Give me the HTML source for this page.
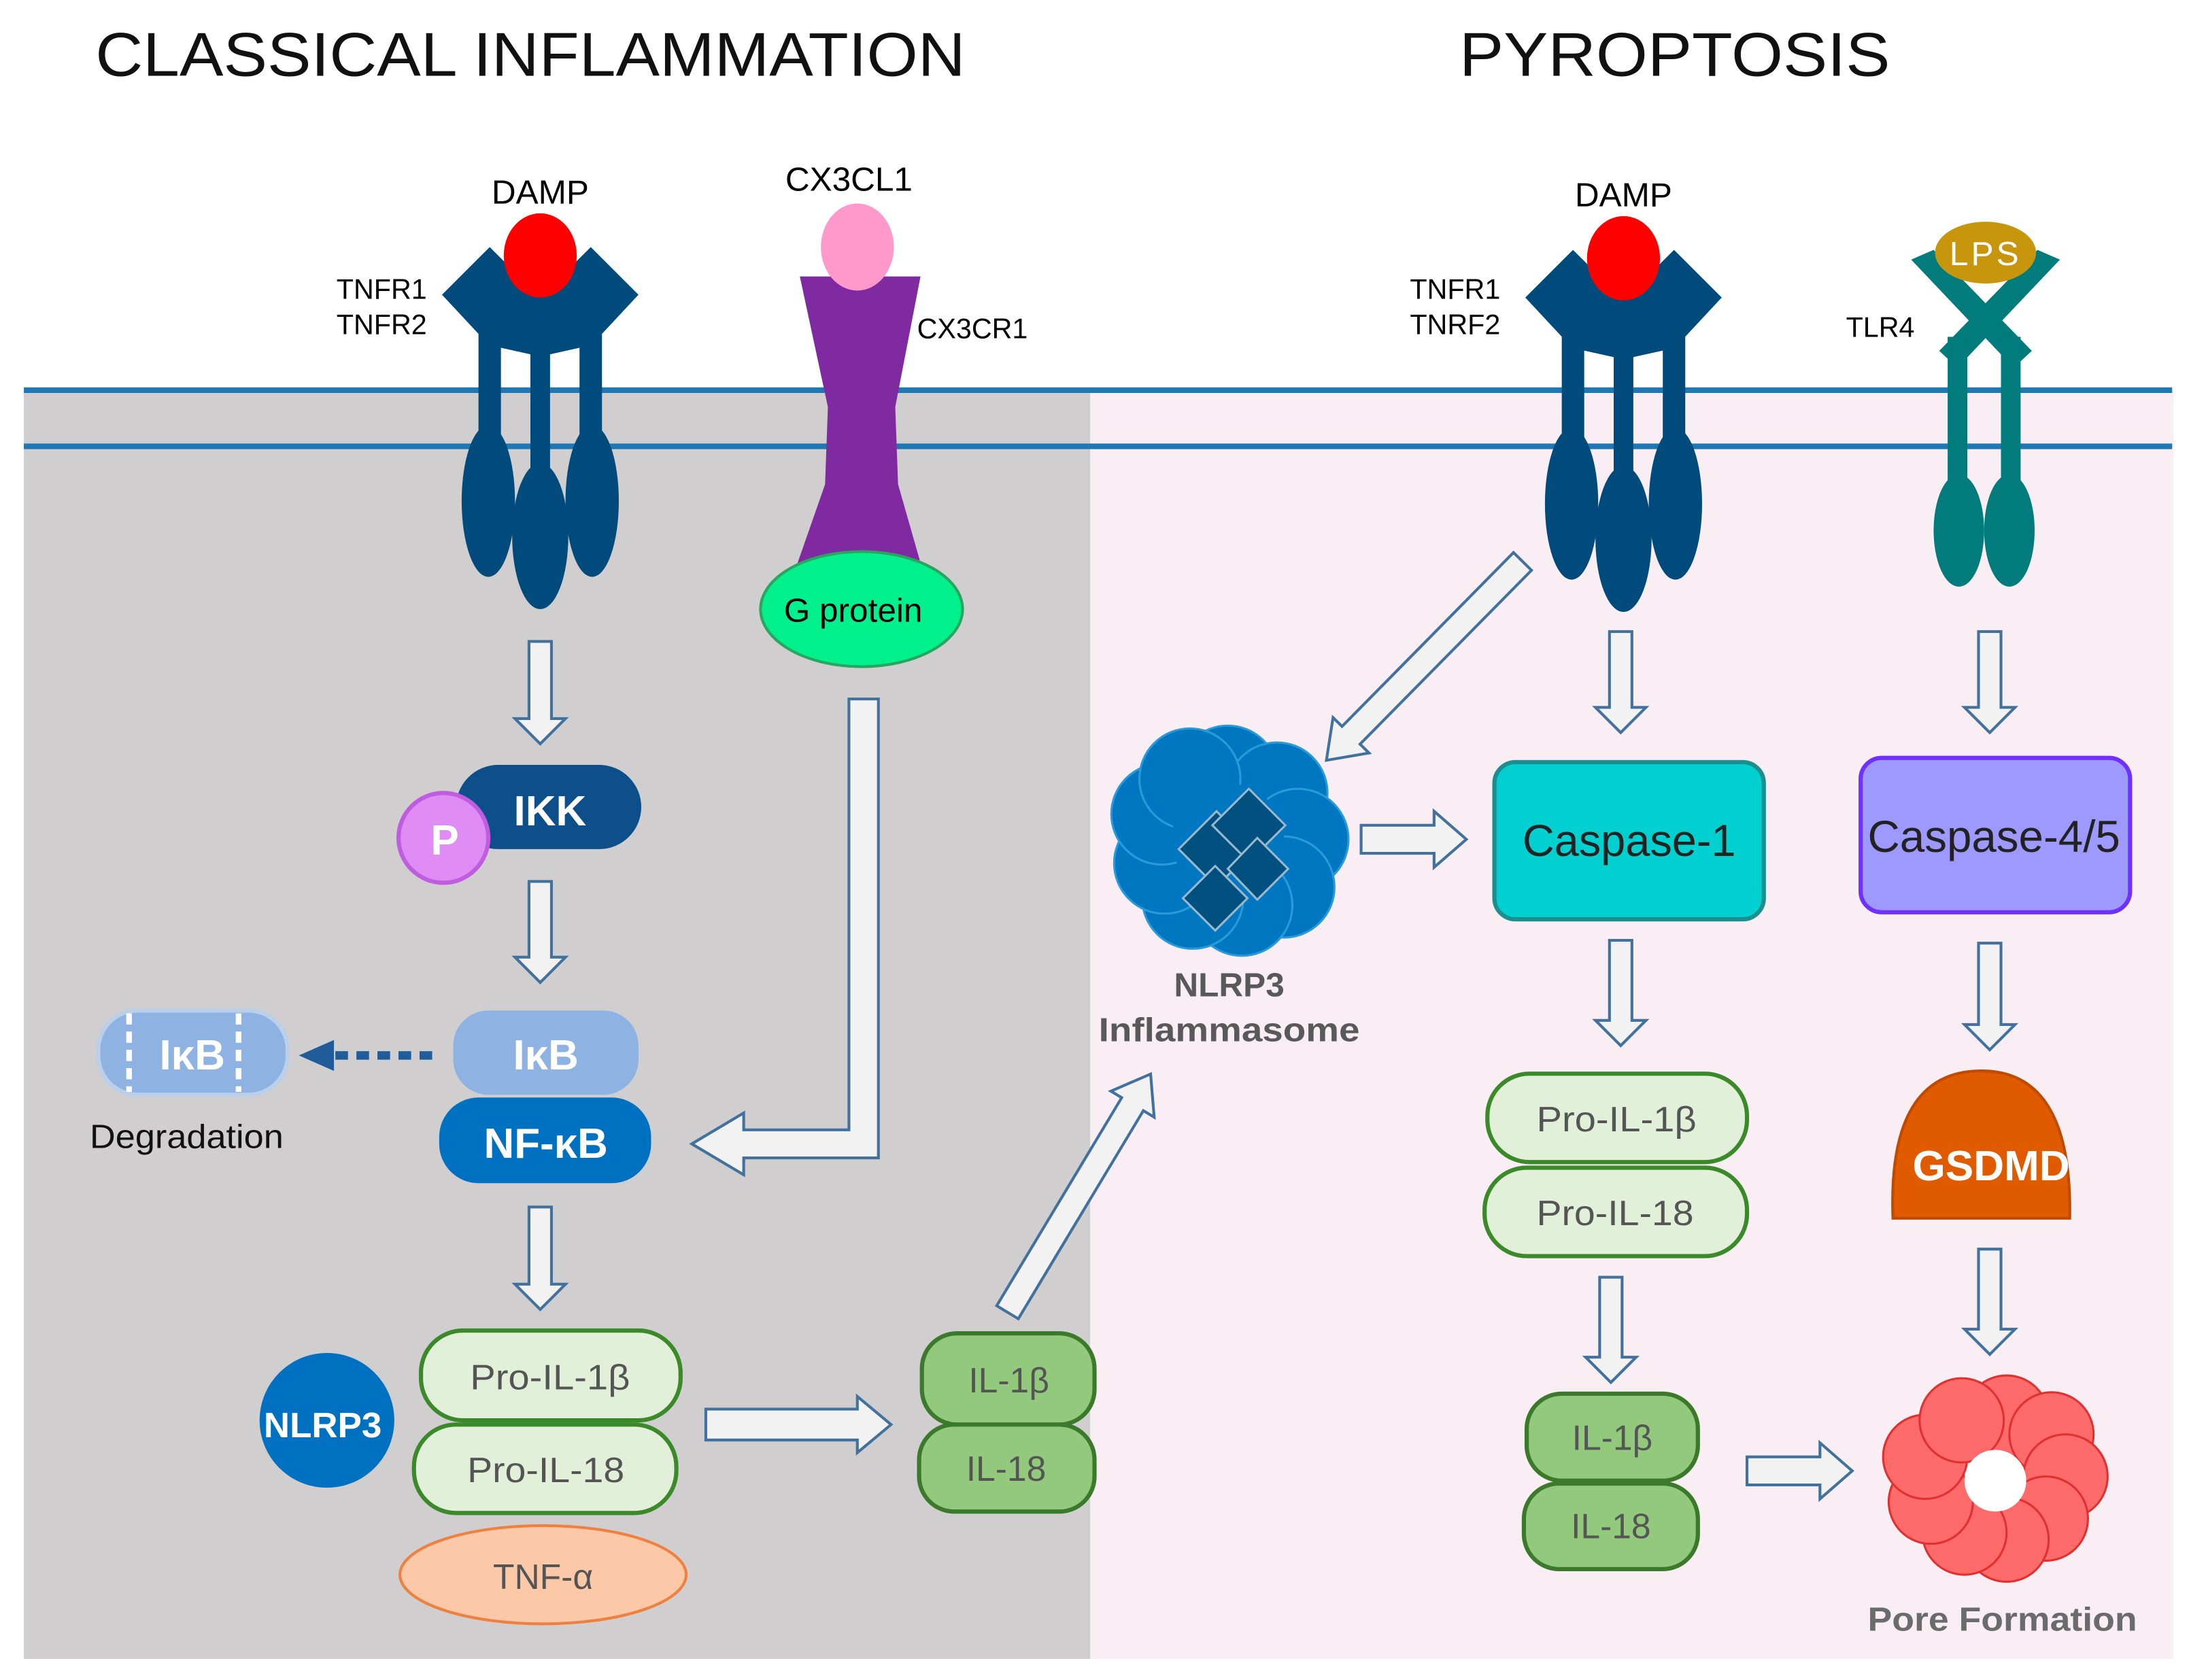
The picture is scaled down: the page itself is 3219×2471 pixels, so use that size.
<!DOCTYPE html>
<html><head><meta charset="utf-8"><style>
html,body{margin:0;padding:0;background:#fff}
svg{display:block}
text{font-family:"Liberation Sans",Arial,sans-serif}
</style></head><body>
<svg width="3219" height="2471" viewBox="0 0 1560 1197" preserveAspectRatio="none" xmlns="http://www.w3.org/2000/svg">
<defs>
<g id="rec">
  <polygon points="-70,210 -36,176 -14,198 14,198 36,176 70,210 42,240 36,246 0,254 -36,246 -42,240" fill="#004b7b"/>
  <rect x="-44" y="228" width="16" height="110" fill="#004b7b"/>
  <rect x="-7" y="240" width="14" height="150" fill="#004b7b"/>
  <rect x="28" y="228" width="16" height="110" fill="#004b7b"/>
  <ellipse cx="-37" cy="357" rx="19" ry="54" fill="#004b7b"/>
  <ellipse cx="37" cy="357" rx="19" ry="54" fill="#004b7b"/>
  <ellipse cx="0" cy="382" rx="20" ry="52" fill="#004b7b"/>
  <ellipse cx="0" cy="182" rx="26" ry="30" fill="#ff0000"/>
</g>
</defs>
<rect width="1560" height="1197" fill="#fff"/>
<rect x="17" y="279" width="760" height="903" fill="#d0cecf"/>
<rect x="777" y="279" width="772" height="903" fill="#f8eef4"/>
<line x1="17" y1="278" x2="1548" y2="278" stroke="#1f77b4" stroke-width="4"/>
<line x1="17" y1="318" x2="1548" y2="318" stroke="#1f77b4" stroke-width="4"/>

<text x="68" y="54" font-size="44" fill="#111" textLength="620" lengthAdjust="spacingAndGlyphs">CLASSICAL  INFLAMMATION</text>
<text x="1040" y="54" font-size="44" fill="#111" textLength="307" lengthAdjust="spacingAndGlyphs">PYROPTOSIS</text>

<use href="#rec" transform="translate(385,0)"/>
<use href="#rec" transform="translate(1157,2)"/>
<text x="385" y="145" font-size="24" text-anchor="middle">DAMP</text>
<text x="1157" y="147" font-size="24" text-anchor="middle">DAMP</text>
<text x="272" y="213" font-size="20" text-anchor="middle">TNFR1</text>
<text x="272" y="238" font-size="20" text-anchor="middle">TNFR2</text>
<text x="1037" y="213" font-size="20" text-anchor="middle">TNFR1</text>
<text x="1037" y="238" font-size="20" text-anchor="middle">TNRF2</text>

<polygon points="570,197 656,197 638,290 640,345 658,408 566,408 588,345 590,290" fill="#7f2aa0"/>
<ellipse cx="611" cy="176" rx="26" ry="31" fill="#ff99cc"/>
<text x="605" y="136" font-size="24" text-anchor="middle">CX3CL1</text>
<text x="693" y="241" font-size="20" text-anchor="middle">CX3CR1</text>
<ellipse cx="614" cy="434" rx="72" ry="41" fill="#00f08c" stroke="#2aa55f" stroke-width="2"/>
<text x="608" y="443" font-size="24" text-anchor="middle">G protein</text>

<g fill="#017b7b">
  <polygon points="1362,185 1378,178 1448,250 1435,262"/>
  <polygon points="1468,185 1452,178 1382,250 1395,262"/>
  <rect x="1388" y="240" width="14" height="105"/>
  <rect x="1426" y="240" width="14" height="105"/>
  <ellipse cx="1396" cy="378" rx="18" ry="40"/>
  <ellipse cx="1432" cy="378" rx="18" ry="40"/>
</g>
<ellipse cx="1415" cy="180" rx="36" ry="22" fill="#c8960c"/>
<text x="1415" y="189" font-size="24" fill="#fff" text-anchor="middle" letter-spacing="2">LPS</text>
<text x="1340" y="240" font-size="20" text-anchor="middle">TLR4</text>

<g fill="#f2f2f2" stroke="#41719c" stroke-width="2">
  <polygon transform="translate(385,457) rotate(90)" points="0,-8 55,-8 55,-18 73,0 55,18 55,8 0,8"/>
  <polygon transform="translate(385,628) rotate(90)" points="0,-8 54,-8 54,-18 72,0 54,18 54,8 0,8"/>
  <polygon transform="translate(385,860) rotate(90)" points="0,-8 55,-8 55,-18 73,0 55,18 55,8 0,8"/>
  <polygon points="605,498 626,498 626,825 530,825 530,837 493,815 530,793 530,805 605,805"/>
  <polygon transform="translate(503,1015)" points="0,-11 108,-11 108,-20 132,0 108,20 108,11 0,11"/>
  <polygon transform="translate(718,935) rotate(-59)" points="0,-9 173,-9 173,-18 198,0 173,18 173,9 0,9"/>
  <polygon transform="translate(1085,400) rotate(134.6)" points="0,-9 174,-9 174,-18 199,0 174,18 174,9 0,9"/>
  <polygon transform="translate(970,598)" points="0,-10 52,-10 52,-20 75,0 52,20 52,10 0,10"/>
  <polygon transform="translate(1155,450) rotate(90)" points="0,-8 54,-8 54,-18 72,0 54,18 54,8 0,8"/>
  <polygon transform="translate(1418,450) rotate(90)" points="0,-8 54,-8 54,-18 72,0 54,18 54,8 0,8"/>
  <polygon transform="translate(1155,670) rotate(90)" points="0,-8 57,-8 57,-18 75,0 57,18 57,8 0,8"/>
  <polygon transform="translate(1418,672) rotate(90)" points="0,-8 58,-8 58,-18 76,0 58,18 58,8 0,8"/>
  <polygon transform="translate(1148,910) rotate(90)" points="0,-8 57,-8 57,-18 75,0 57,18 57,8 0,8"/>
  <polygon transform="translate(1418,890) rotate(90)" points="0,-8 57,-8 57,-18 75,0 57,18 57,8 0,8"/>
  <polygon transform="translate(1245,1048)" points="0,-10 52,-10 52,-20 75,0 52,20 52,10 0,10"/>
</g>

<rect x="325" y="545" width="132" height="60" rx="30" fill="#0d4f8b"/>
<text x="392" y="588" font-size="30" font-weight="bold" fill="#fff" text-anchor="middle">IKK</text>
<circle cx="316" cy="597" r="32" fill="#e08cf5" stroke="#c05ce0" stroke-width="3"/>
<text x="317" y="609" font-size="30" font-weight="bold" fill="#fff" text-anchor="middle">P</text>

<rect x="323" y="720" width="132" height="60" rx="25" fill="#8eb3e2"/>
<text x="389" y="762" font-size="30" font-weight="bold" fill="#fff" text-anchor="middle">IκB</text>
<rect x="313" y="782" width="151" height="61" rx="28" fill="#0070c0"/>
<text x="389" y="825" font-size="30" font-weight="bold" fill="#fff" text-anchor="middle">NF-κB</text>
<rect x="70" y="720" width="135" height="60" rx="28" fill="#8eb3e2" stroke="#b9cfea" stroke-width="3"/>
<line x1="92" y1="722" x2="92" y2="778" stroke="#fff" stroke-width="4" stroke-dasharray="8,5"/>
<line x1="170" y1="722" x2="170" y2="778" stroke="#fff" stroke-width="4" stroke-dasharray="8,5"/>
<text x="137" y="762" font-size="30" font-weight="bold" fill="#fff" text-anchor="middle">IκB</text>
<line x1="308" y1="752" x2="235" y2="752" stroke="#1f5c99" stroke-width="6" stroke-dasharray="9,6"/>
<polygon points="238,741 213,752 238,763" fill="#1f5c99"/>
<text x="133" y="818" font-size="24" text-anchor="middle" fill="#111" textLength="138" lengthAdjust="spacingAndGlyphs">Degradation</text>

<circle cx="233" cy="1012" r="48" fill="#0070c0"/>
<text x="230" y="1024" font-size="25" font-weight="bold" fill="#fff" text-anchor="middle" textLength="84" lengthAdjust="spacingAndGlyphs">NLRP3</text>
<rect x="300" y="948" width="185" height="64" rx="30" fill="#e2f0d9" stroke="#3a8a2a" stroke-width="3"/>
<text x="392" y="990" font-size="25" fill="#555" text-anchor="middle" textLength="114" lengthAdjust="spacingAndGlyphs">Pro-IL-1β</text>
<rect x="295" y="1015" width="187" height="63" rx="30" fill="#e2f0d9" stroke="#3a8a2a" stroke-width="3"/>
<text x="389" y="1056" font-size="25" fill="#555" text-anchor="middle" textLength="112" lengthAdjust="spacingAndGlyphs">Pro-IL-18</text>
<ellipse cx="387" cy="1122" rx="102" ry="35" fill="#fbc8a8" stroke="#f08040" stroke-width="2"/>
<text x="387" y="1132" font-size="25" fill="#555" text-anchor="middle">TNF-α</text>
<rect x="657" y="950" width="123" height="65" rx="25" fill="#93c97c" stroke="#3b7a2a" stroke-width="3"/>
<text x="719" y="992" font-size="25" fill="#555" text-anchor="middle">IL-1β</text>
<rect x="655" y="1015" width="125" height="62" rx="25" fill="#93c97c" stroke="#3b7a2a" stroke-width="3"/>
<text x="717" y="1055" font-size="25" fill="#555" text-anchor="middle">IL-18</text>

<g fill="#0077c0" stroke="#2a9ad8" stroke-width="1.5">
  <circle cx="875" cy="553" r="36"/><circle cx="910" cy="565" r="36"/><circle cx="925" cy="598" r="36"/>
  <circle cx="915" cy="632" r="36"/><circle cx="885" cy="645" r="36"/><circle cx="850" cy="640" r="36"/>
  <circle cx="830" cy="615" r="36"/><circle cx="828" cy="580" r="36"/><circle cx="848" cy="555" r="36"/>
  <circle cx="875" cy="598" r="40" stroke="none"/>
</g>
<g fill="#00507f" stroke="#9ab8cc" stroke-width="1.5">
  <polygon points="840,605 867,578 893,605 867,632"/>
  <polygon points="864,588 890,562 916,588 890,614"/>
  <polygon points="843,640 866,617 889,640 866,663"/>
  <polygon points="875,619 896,597 918,619 896,641"/>
</g>
<text x="876" y="710" font-size="24" font-weight="bold" fill="#595959" text-anchor="middle">NLRP3</text>
<text x="876" y="742" font-size="24" font-weight="bold" fill="#595959" text-anchor="middle" textLength="186" lengthAdjust="spacingAndGlyphs">Inflammasome</text>

<rect x="1065" y="543" width="192" height="112" rx="15" fill="#00d0d0" stroke="#1b8f8f" stroke-width="3"/>
<text x="1161" y="610" font-size="32" fill="#222" text-anchor="middle" textLength="152" lengthAdjust="spacingAndGlyphs">Caspase-1</text>
<rect x="1326" y="540" width="192" height="110" rx="15" fill="#9d99ff" stroke="#7030ff" stroke-width="3"/>
<text x="1421" y="607" font-size="32" fill="#222" text-anchor="middle" textLength="180" lengthAdjust="spacingAndGlyphs">Caspase-4/5</text>

<rect x="1060" y="765" width="185" height="63" rx="30" fill="#e2f0d9" stroke="#3a8a2a" stroke-width="3"/>
<text x="1152" y="806" font-size="25" fill="#555" text-anchor="middle" textLength="114" lengthAdjust="spacingAndGlyphs">Pro-IL-1β</text>
<rect x="1058" y="832" width="187" height="63" rx="30" fill="#e2f0d9" stroke="#3a8a2a" stroke-width="3"/>
<text x="1151" y="873" font-size="25" fill="#555" text-anchor="middle" textLength="112" lengthAdjust="spacingAndGlyphs">Pro-IL-18</text>
<rect x="1088" y="993" width="122" height="62" rx="25" fill="#93c97c" stroke="#3b7a2a" stroke-width="3"/>
<text x="1149" y="1033" font-size="25" fill="#555" text-anchor="middle">IL-1β</text>
<rect x="1086" y="1057" width="124" height="61" rx="25" fill="#93c97c" stroke="#3b7a2a" stroke-width="3"/>
<text x="1148" y="1096" font-size="25" fill="#555" text-anchor="middle">IL-18</text>

<path d="M1349,868 Q1345,763 1412,763 Q1477,763 1475,868 Z" fill="#e05a00" stroke="#c04a00" stroke-width="2"/>
<text x="1419" y="841" font-size="30" font-weight="bold" fill="#fff" text-anchor="middle" textLength="112" lengthAdjust="spacingAndGlyphs">GSDMD</text>

<g fill="#ff6b6b" stroke="#e03030" stroke-width="1.5">
  <circle cx="1430" cy="1010" r="30"/><circle cx="1462" cy="1022" r="30"/><circle cx="1472" cy="1052" r="30"/>
  <circle cx="1458" cy="1082" r="30"/><circle cx="1430" cy="1097" r="30"/><circle cx="1400" cy="1092" r="30"/>
  <circle cx="1376" cy="1070" r="30"/><circle cx="1372" cy="1038" r="30"/><circle cx="1398" cy="1012" r="30"/>
</g>
<circle cx="1422" cy="1055" r="22" fill="#fff"/>
<text x="1427" y="1162" font-size="24" font-weight="bold" fill="#6b6b6b" text-anchor="middle" textLength="192" lengthAdjust="spacingAndGlyphs">Pore Formation</text>
</svg>
</body></html>
